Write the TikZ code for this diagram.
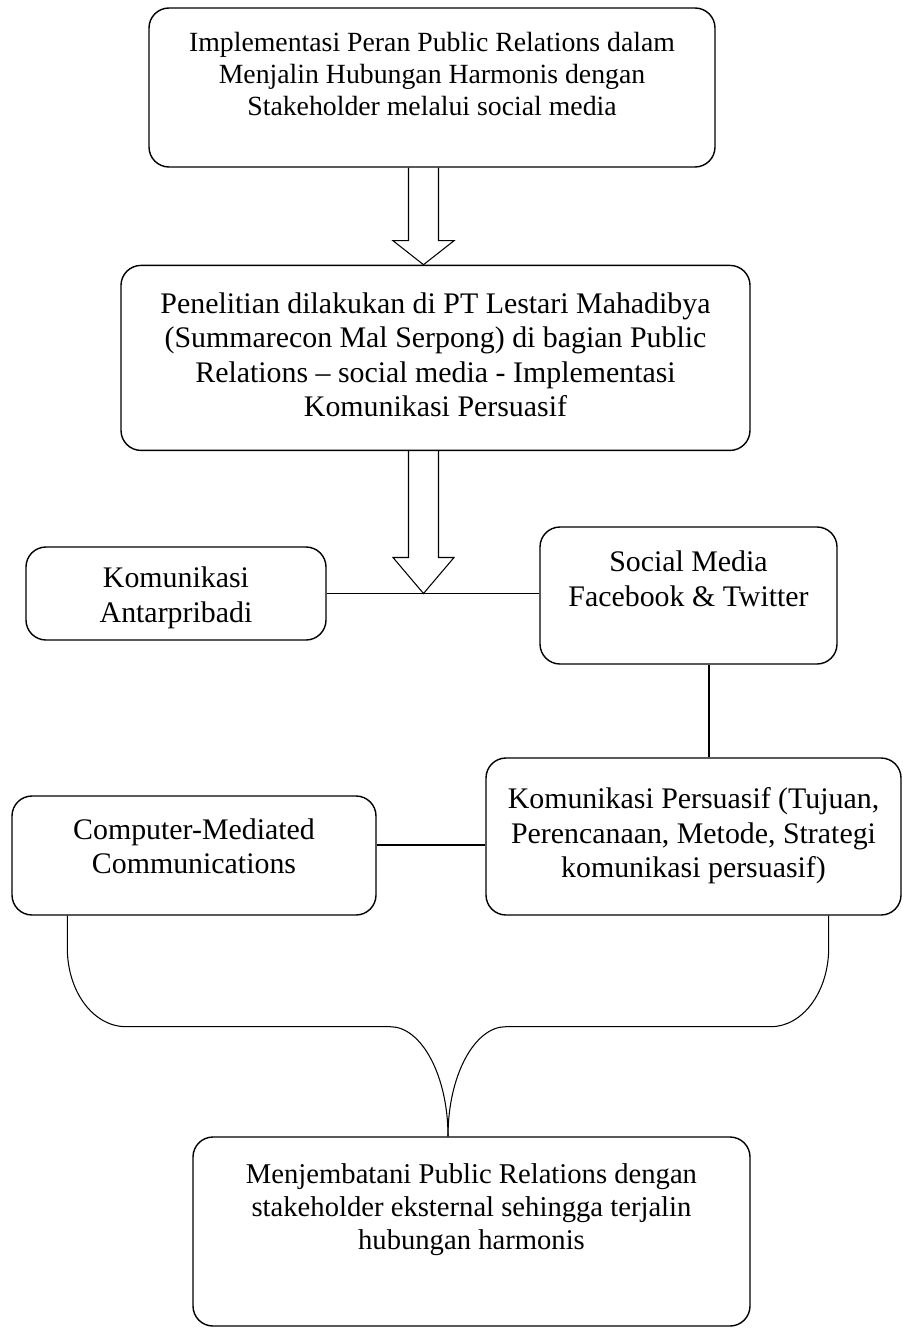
\documentclass[tikz,border=0pt]{standalone}
\usepackage{fontspec}
\setmainfont{Liberation Serif}
\usepackage{tikz}
\usetikzlibrary{positioning,calc}

% isi kotak: lebar, tinggi, jarak baris pertama, teks
\newcommand{\isi}[4]{\parbox[c][#2][t]{#1}{\centering\rule{0pt}{#3}#4}}
% panah blok ke bawah: x, dari, ke, panjang kepala
\newcommand{\panahblok}[4]{%
  \draw[line join=miter] let \p1=(#2), \p2=(#3) in
    ({#1-0.3cm},\y1) -- ({#1-0.3cm},{\y2+#4}) -- ({#1-0.61cm},{\y2+#4})
    -- (#1,\y2) -- ({#1+0.61cm},{\y2+#4}) -- ({#1+0.3cm},{\y2+#4}) -- ({#1+0.3cm},\y1);}

\begin{document}
\begin{tikzpicture}[semithick, node distance=1.94cm]
\tikzstyle{kotak}=[draw, thick, rounded corners=0.4cm, inner sep=0pt, font=\fontsize{17}{19.6}\selectfont]
\useasboundingbox (0,0) rectangle (18.04,-26.56);
\node[kotak, font=\fontsize{15.8}{18.2}\selectfont] (impl) at (8.64,-1.75) {\isi{11.32cm}{3.18cm}{24.5pt}{Implementasi Peran Public Relations dalam\\ Menjalin Hubungan Harmonis dengan\\ Stakeholder melalui social media}};
\node[kotak] (lok) [below=of impl, xshift=0.07cm] {\isi{12.58cm}{3.7cm}{27.3pt}{Penelitian dilakukan di PT Lestari Mahadibya\\ (Summarecon Mal Serpong) di bagian Public\\ Relations -- social media - Implementasi\\ Komunikasi Persuasif}};
\node[kotak] (kap) at (3.52,-11.87) {\isi{6cm}{1.86cm}{23.3pt}{Komunikasi\\ Antarpribadi}};
\node[kotak] (sos) at (13.77,-11.91) {\isi{5.94cm}{2.74cm}{25.6pt}{Social Media\\ Facebook \& Twitter}};
\node[kotak] (cmc) at (3.88,-17.11) {\isi{7.28cm}{2.38cm}{24.5pt}{Computer-Mediated\\ Communications}};
\node[kotak] (kp) at (13.87,-16.73) {\isi{8.3cm}{3.14cm}{29pt}{Komunikasi Persuasif (Tujuan,\\ Perencanaan, Metode, Strategi\\ komunikasi persuasif)}};
\node[kotak, font=\fontsize{16.3}{18.8}\selectfont] (hub) at (9.43,-24.63) {\isi{11.14cm}{3.78cm}{26.5pt}{Menjembatani Public Relations dengan\\ stakeholder eksternal sehingga terjalin\\ hubungan harmonis}};

\panahblok{8.47cm}{impl.south}{lok.north}{0.48cm}
\panahblok{8.47cm}{lok.south}{kap.east}{0.72cm}
\draw (kap.east) -- (kap.east -| sos.west);
\coordinate (s1) at ($(sos.south)+(0.41,0)$);
\draw (s1) -- (s1 |- kp.north);
\coordinate (c1) at ($(cmc.east)+(0,0.21)$);
\draw (c1) -- (c1 -| kp.west);

% kurung kurawal ke kotak bawah
\coordinate (bl) at ($(cmc.south west)+(1.12,0)$);
\coordinate (br) at ($(kp.south east)+(-1.46,0)$);
\coordinate (tip) at ($(hub.north)+(-0.47,0)$);
\draw (bl) -- ++(0,-0.64) .. controls +(0,-0.88) and +(-0.66,0) .. ++(1.18,-1.58)
  -- ++(5.28,0) .. controls +(0.62,0) and +(0,1.22) .. (tip);
\draw (br) -- ++(0,-0.64) .. controls +(0,-0.88) and +(0.64,0) .. ++(-1.16,-1.58)
  -- ++(-5.30,0) .. controls +(-0.62,0) and +(0,1.22) .. (tip);
\end{tikzpicture}
\end{document}
